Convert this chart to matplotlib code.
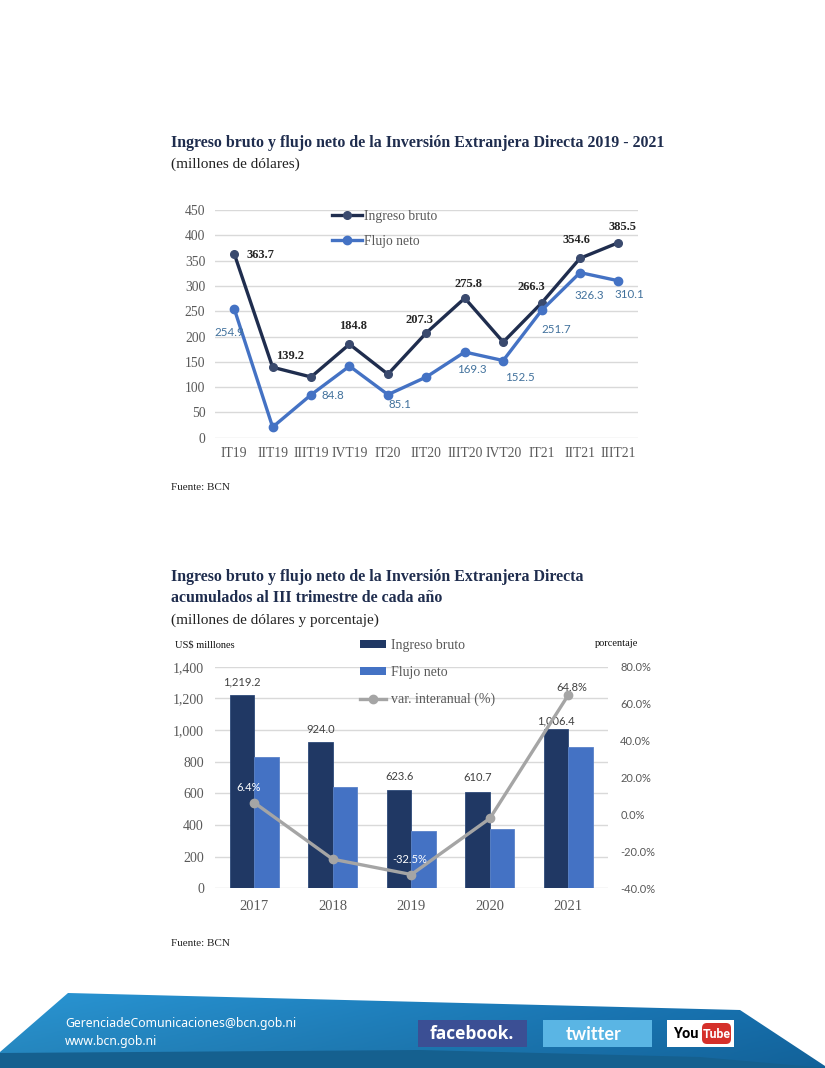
import matplotlib
matplotlib.use('Agg')
import matplotlib.pyplot as plt
import numpy as np
from matplotlib.patches import Polygon, Rectangle, FancyBboxPatch, Patch
from matplotlib.lines import Line2D
from matplotlib.ticker import FuncFormatter

# ---------------- data ----------------
quarters = ['IT19', 'IIT19', 'IIIT19', 'IVT19', 'IT20', 'IIT20', 'IIIT20',
            'IVT20', 'IT21', 'IIT21', 'IIIT21']
ingreso_q = [363.7, 139.2, 120.0, 184.8, 125.5, 207.3, 275.8, 189.0, 266.3, 354.6, 385.5]
flujo_q = [254.9, 21.0, 84.8, 141.5, 85.1, 120.0, 169.3, 152.5, 251.7, 326.3, 310.1]
ingreso_q_labeled = [True, True, False, True, False, True, True, False, True, True, True]
flujo_q_labeled = [True, False, True, False, True, False, True, True, True, True, True]

years = ['2017', '2018', '2019', '2020', '2021']
ingreso_y = [1219.2, 924.0, 623.6, 610.7, 1006.4]
flujo_y = [828.0, 638.0, 362.0, 374.0, 891.0]
var_y = [6.4, -24.2, -32.5, -2.1, 64.8]
var_labeled = [True, False, True, False, True]

# ---------------- layout helpers ----------------
W, H = 825, 1068
SERIF = ['Liberation Serif', 'DejaVu Serif']
SANS = ['Lato', 'DejaVu Sans']
NAVY = '#1f2d4e'
GRAY = '#595959'

def fx(x):
    return x / W

def fy(y):
    return 1 - y / H

fig = plt.figure(figsize=(W / 100, H / 100), dpi=100, facecolor='white')

# ---------------- background / footer ----------------
bg = fig.add_axes([0, 0, 1, 1], zorder=-10)
bg.set_xlim(0, W)
bg.set_ylim(H, 0)
bg.axis('off')

banner = Polygon([(68, 993), (740, 1010), (825, 1066), (825, 1068), (0, 1068), (0, 1052)],
                 closed=True, facecolor='none', edgecolor='none')
bg.add_patch(banner)
gx = np.linspace(0, 1, 200)
gy = np.linspace(0, 1, 40)
GX, GY = np.meshgrid(gx, gy)
c_left = np.array([0x2a, 0x96, 0xd4]) / 255
c_right = np.array([0x15, 0x6f, 0xae]) / 255
img = c_left[None, None, :] * (1 - GX[..., None]) + c_right[None, None, :] * GX[..., None]
img = img * (1 - 0.12 * GY[..., None])
im = bg.imshow(img, extent=[0, W, 1068, 990], aspect='auto', zorder=1)
im.set_clip_path(banner)
band = Polygon([(0, 1053), (420, 1050), (700, 1057), (825, 1068), (0, 1068)],
               closed=True, facecolor='#15608f', edgecolor='none', zorder=2)
bg.add_patch(band)
band.set_clip_path(banner)

bg.text(65, 1023, 'GerenciadeComunicaciones@bcn.gob.ni', color='white',
        fontsize=8.8, family=['Noto Sans', 'DejaVu Sans'], va='center', ha='left', zorder=3)
bg.text(65, 1041, 'www.bcn.gob.ni', color='white',
        fontsize=8.8, family=['Noto Sans', 'DejaVu Sans'], va='center', ha='left', zorder=3)

bg.add_patch(Rectangle((418, 1020), 109, 27, facecolor='#3b4f94', edgecolor='none', zorder=3))
bg.text(472, 1034, 'facebook.', color='white', fontsize=12.5, fontweight='bold',
        family=['Open Sans', 'DejaVu Sans'], ha='center', va='center', zorder=4)
bg.add_patch(Rectangle((543, 1020), 109, 27, facecolor='#5ab5e4', edgecolor='none', zorder=3))
bg.text(594, 1034, 'twitter', color='white', fontsize=13, fontweight='bold',
        family=['Lato', 'DejaVu Sans'], ha='center', va='center', zorder=4)
bg.add_patch(Rectangle((667, 1020), 67, 27, facecolor='white', edgecolor='none', zorder=3))
bg.text(686, 1034, 'You', color='black', fontsize=10.5, fontweight='bold',
        family=['Roboto', 'DejaVu Sans'], ha='center', va='center', zorder=4)
bg.add_patch(FancyBboxPatch((702, 1023), 29, 21, boxstyle='round,pad=0,rounding_size=5',
                            facecolor='#d5302a', edgecolor='none', zorder=4))
bg.text(716.5, 1034, 'Tube', color='white', fontsize=8.8, fontweight='bold',
        family=['Roboto', 'DejaVu Sans'], ha='center', va='center', zorder=5)

# ---------------- top chart text ----------------
fig.text(fx(171), fy(143), 'Ingreso bruto y flujo neto de la Inversión Extranjera Directa 2019 - 2021',
         family=SERIF, fontweight='bold', fontsize=11.4, color=NAVY, va='center', ha='left')
fig.text(fx(171), fy(164), '(millones de dólares)', family=SERIF, fontsize=11,
         color='#222222', va='center', ha='left')
fig.text(fx(171), fy(488), 'Fuente: BCN', family=SERIF, fontsize=8, color='#222222',
         va='center', ha='left')

# ---------------- top chart ----------------
ax1 = fig.add_axes([fx(215), fy(437.7), (637.7 - 215) / W, (437.7 - 210) / H])
x = np.arange(len(quarters))
ax1.set_xlim(-0.5, len(quarters) - 0.5)
ax1.set_ylim(0, 450)
ax1.set_yticks(np.arange(0, 451, 50))
ax1.set_xticks(x)
ax1.set_xticklabels(quarters)
for s in ax1.spines.values():
    s.set_visible(False)
ax1.yaxis.grid(True, color='#d9d9d9', lw=1)
ax1.set_axisbelow(True)
ax1.tick_params(length=0, labelsize=9.8, labelcolor=GRAY)
ax1.tick_params(axis='y', pad=7)
ax1.tick_params(axis='x', pad=7)
for lab in ax1.get_xticklabels() + ax1.get_yticklabels():
    lab.set_family(SERIF)

ax1.plot(x, ingreso_q, color='#1f2d4e', lw=2.4, marker='o', ms=5.5,
         markerfacecolor='#3a4a6e', markeredgecolor='#3a4a6e', label='Ingreso bruto', zorder=3)
ax1.plot(x, flujo_q, color='#4472c4', lw=2.4, marker='o', ms=6,
         label='Flujo neto', zorder=3)

ing_off = [(26, -1), (17, 11), (0, 0), (4, 18), (0, 0), (-7, 13), (4, 14),
           (0, 0), (-10, 16), (-4, 18), (4, 16)]
flu_off = [(-5, -24), (0, 0), (22, -1), (0, 0), (12, -10), (0, 0), (7, -17),
           (17, -17), (15, -19), (9, -23), (11, -14)]
for i, v in enumerate(ingreso_q):
    if ingreso_q_labeled[i]:
        ax1.annotate(f'{v:.1f}', (i, v), xytext=ing_off[i], textcoords='offset pixels',
                     ha='center', va='center', fontsize=9, fontweight='bold',
                     family=SERIF, color='#262626', zorder=5)
for i, v in enumerate(flujo_q):
    if flujo_q_labeled[i]:
        ax1.annotate(f'{v:.1f}', (i, v), xytext=flu_off[i], textcoords='offset pixels',
                     ha='center', va='center', fontsize=8.3,
                     family=SANS, color='#41719c', zorder=5)

leg1 = ax1.legend(loc='upper left', bbox_to_anchor=(fx(332), fy(210)),
                  bbox_transform=fig.transFigure, frameon=False, borderpad=0,
                  borderaxespad=0, handlelength=2.2, handletextpad=0.15,
                  labelspacing=0.9, prop={'family': SERIF, 'size': 9.8})
for t in leg1.get_texts():
    t.set_color(GRAY)

# ---------------- bottom chart text ----------------
fig.text(fx(171), fy(577), 'Ingreso bruto y flujo neto de la Inversión Extranjera Directa',
         family=SERIF, fontweight='bold', fontsize=11.4, color=NAVY, va='center', ha='left')
fig.text(fx(171), fy(598), 'acumulados al III trimestre de cada año',
         family=SERIF, fontweight='bold', fontsize=11.4, color=NAVY, va='center', ha='left')
fig.text(fx(171), fy(620), '(millones de dólares y porcentaje)', family=SERIF, fontsize=11,
         color='#222222', va='center', ha='left')
fig.text(fx(175), fy(645), 'US$ milllones', family=SERIF, fontsize=7.5, color='#111111',
         va='center', ha='left')
fig.text(fx(595), fy(644), 'porcentaje', family=SERIF, fontsize=7.5, color='#111111',
         va='center', ha='left')
fig.text(fx(171), fy(943), 'Fuente: BCN', family=SERIF, fontsize=8, color='#222222',
         va='center', ha='left')

# ---------------- bottom chart ----------------
ax2 = fig.add_axes([fx(215), fy(888.4), (607.7 - 215) / W, (888.4 - 666.7) / H])
xb = np.arange(len(years))
bw = 0.312
ax2.bar(xb - bw / 2, ingreso_y, bw, color='#203864', edgecolor='#2e4a7a', lw=0.6,
        label='Ingreso bruto', zorder=2)
ax2.bar(xb + bw / 2, flujo_y, bw, color='#4472c4', edgecolor='#5a82c8', lw=0.6,
        label='Flujo neto', zorder=2)
ax2.set_xlim(-0.5, len(years) - 0.5)
ax2.set_ylim(0, 1400)
ax2.set_yticks(np.arange(0, 1401, 200))
ax2.yaxis.set_major_formatter(FuncFormatter(lambda v, p: f'{v:,.0f}'))
ax2.set_xticks(xb)
ax2.set_xticklabels(years)
for s in ax2.spines.values():
    s.set_visible(False)
ax2.yaxis.grid(True, color='#d9d9d9', lw=1)
ax2.set_axisbelow(True)
ax2.tick_params(length=0, labelcolor=GRAY)
ax2.tick_params(axis='y', labelsize=10, pad=8)
ax2.tick_params(axis='x', labelsize=10.5, pad=8)
for lab in ax2.get_xticklabels() + ax2.get_yticklabels():
    lab.set_family(SERIF)

bar_off = [13, 13, 13, 14, 8]
for i, v in enumerate(ingreso_y):
    ax2.annotate(f'{v:,.1f}', (i - bw / 2, v), xytext=(0, bar_off[i]), textcoords='offset pixels',
                 ha='center', va='center', fontsize=8, family=SANS, color='#404040', zorder=6)

ax3 = ax2.twinx()
ax3.set_ylim(-40, 80)
ax3.set_yticks(np.arange(-40, 81, 20))
ax3.yaxis.set_major_formatter(FuncFormatter(lambda v, p: f'{v:.1f}%'))
for s in ax3.spines.values():
    s.set_visible(False)
ax3.tick_params(length=0, labelcolor=GRAY, labelsize=8, pad=9)
for lab in ax3.get_yticklabels():
    lab.set_family(SANS)
ax3.plot(xb, var_y, color='#a5a5a5', lw=2.4, marker='o', ms=6,
         label='var. interanual (%)', zorder=4)
var_off = [(-6, 15), (0, 0), (-2, 15), (0, 0), (3, 7)]
var_col = ['white', None, 'white', None, '#404040']
for i, v in enumerate(var_y):
    if var_labeled[i]:
        ax3.annotate(f'{v:.1f}%', (i, v), xytext=var_off[i], textcoords='offset pixels',
                     ha='center', va='center', fontsize=8, family=SANS,
                     color=var_col[i], zorder=6)

handles = [Patch(facecolor='#203864', edgecolor='none'),
           Patch(facecolor='#4472c4', edgecolor='none'),
           Line2D([0], [0], color='#a5a5a5', lw=2.4, marker='o', ms=6)]
leg2 = ax3.legend(handles, ['Ingreso bruto', 'Flujo neto', 'var. interanual (%)'],
                  loc='upper left', bbox_to_anchor=(fx(360), fy(639)),
                  bbox_transform=fig.transFigure, frameon=False, borderpad=0,
                  borderaxespad=0, handlelength=1.85, handleheight=0.45,
                  handletextpad=0.4, labelspacing=1.0,
                  prop={'family': SERIF, 'size': 10})
for t in leg2.get_texts():
    t.set_color(GRAY)

fig.savefig('out.png', dpi=100, facecolor='white')
